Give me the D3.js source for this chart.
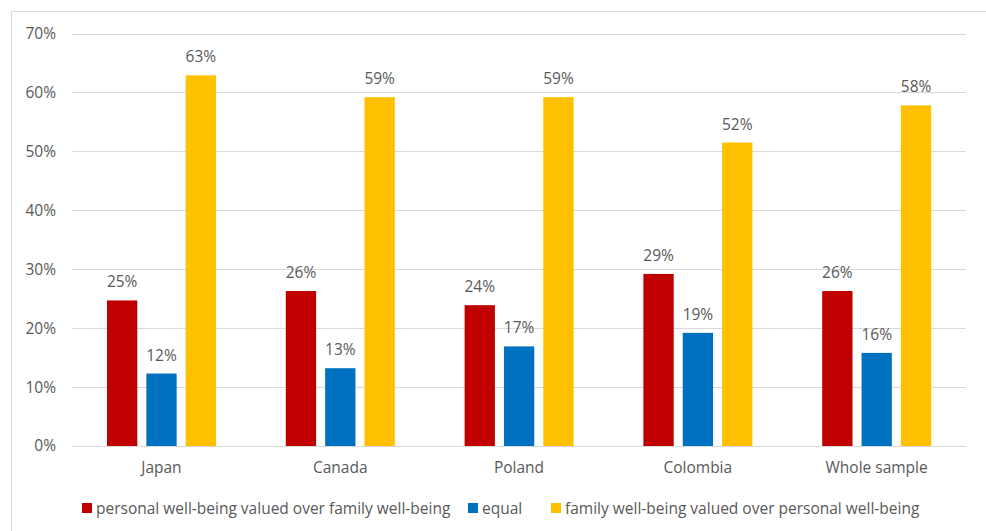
<!DOCTYPE html>
<html><head><meta charset="utf-8">
<script src="https://cdn.jsdelivr.net/npm/d3@7"></script>
<style>body{margin:0;background:#fff}svg{display:block}text{font-family:"Open Sans","Liberation Sans",sans-serif;fill:#595959}</style>
</head><body>
<script>
const categories = ["Japan","Canada","Poland","Colombia","Whole sample"];
const seriesNames = ["personal well-being valued over family well-being","equal","family well-being valued over personal well-being"];
const personal = [0.247,0.263,0.239,0.292,0.263];
const equal = [0.123,0.132,0.169,0.192,0.158];
const family = [0.629,0.592,0.592,0.515,0.578];
const yTicks = [0,0.1,0.2,0.3,0.4,0.5,0.6,0.7];
const colors = ["#C00000","#0070C0","#FFC000"];
const series = [personal, equal, family];

const W=986,H=531;
const svg=d3.select("body").append("svg").attr("width",W).attr("height",H);
svg.append("rect").attr("x",11.5).attr("y",11.5).attr("width",W).attr("height",H).attr("fill","#fff").attr("stroke","#d9d9d9");

const x0=d3.scaleBand().domain(categories).range([72,966]);
const x1=d3.scaleBand().domain([0,1,2]).range([35,144]).paddingInner(0.23).paddingOuter(0);
const y=d3.scaleLinear().domain([0,0.7]).range([446,33.5]);

const fmt=d3.format(".0%");
const FS="15.5px";
const g=svg.append("g");
g.selectAll("line.grid").data(yTicks).join("line").attr("class","grid")
 .attr("x1",72).attr("x2",966).attr("y1",d=>Math.round(y(d))+0.5).attr("y2",d=>Math.round(y(d))+0.5)
 .attr("stroke","#d9d9d9").attr("stroke-width",1);

const yAxis=d3.axisLeft(y).tickValues(yTicks).tickFormat(fmt).tickSize(0).tickPadding(0);
const ya=svg.append("g").attr("transform","translate(56,0)").call(yAxis);
ya.select(".domain").remove();
ya.selectAll("text").style("font-size",FS).attr("fill","#595959");

const xAxis=d3.axisBottom(x0).tickSize(0).tickPadding(0);
const xa=svg.append("g").attr("transform","translate(0,462)").call(xAxis);
xa.select(".domain").remove();
xa.selectAll("text").style("font-size",FS).attr("fill","#595959").attr("dy","0.71em");

categories.forEach((c,ci)=>{
  series.forEach((s,si)=>{
    const bx=x0(c)+x1(si);
    g.append("rect").attr("x",bx).attr("y",y(s[ci])).attr("width",x1.bandwidth()).attr("height",y(0)-y(s[ci])).attr("fill",colors[si]);
    g.append("text").attr("x",bx+x1.bandwidth()/2).attr("y",y(s[ci])-13).attr("text-anchor","middle").style("font-size",FS).text(fmt(s[ci]));
  });
});

const legX=[82,468,551];
const lg=svg.append("g");
seriesNames.forEach((n,i)=>{
  lg.append("rect").attr("x",legX[i]).attr("y",503).attr("width",10).attr("height",10).attr("fill",colors[i]);
  lg.append("text").attr("x",legX[i]+14).attr("y",514).style("font-size",FS).text(n);
});
</script>
</body></html>
